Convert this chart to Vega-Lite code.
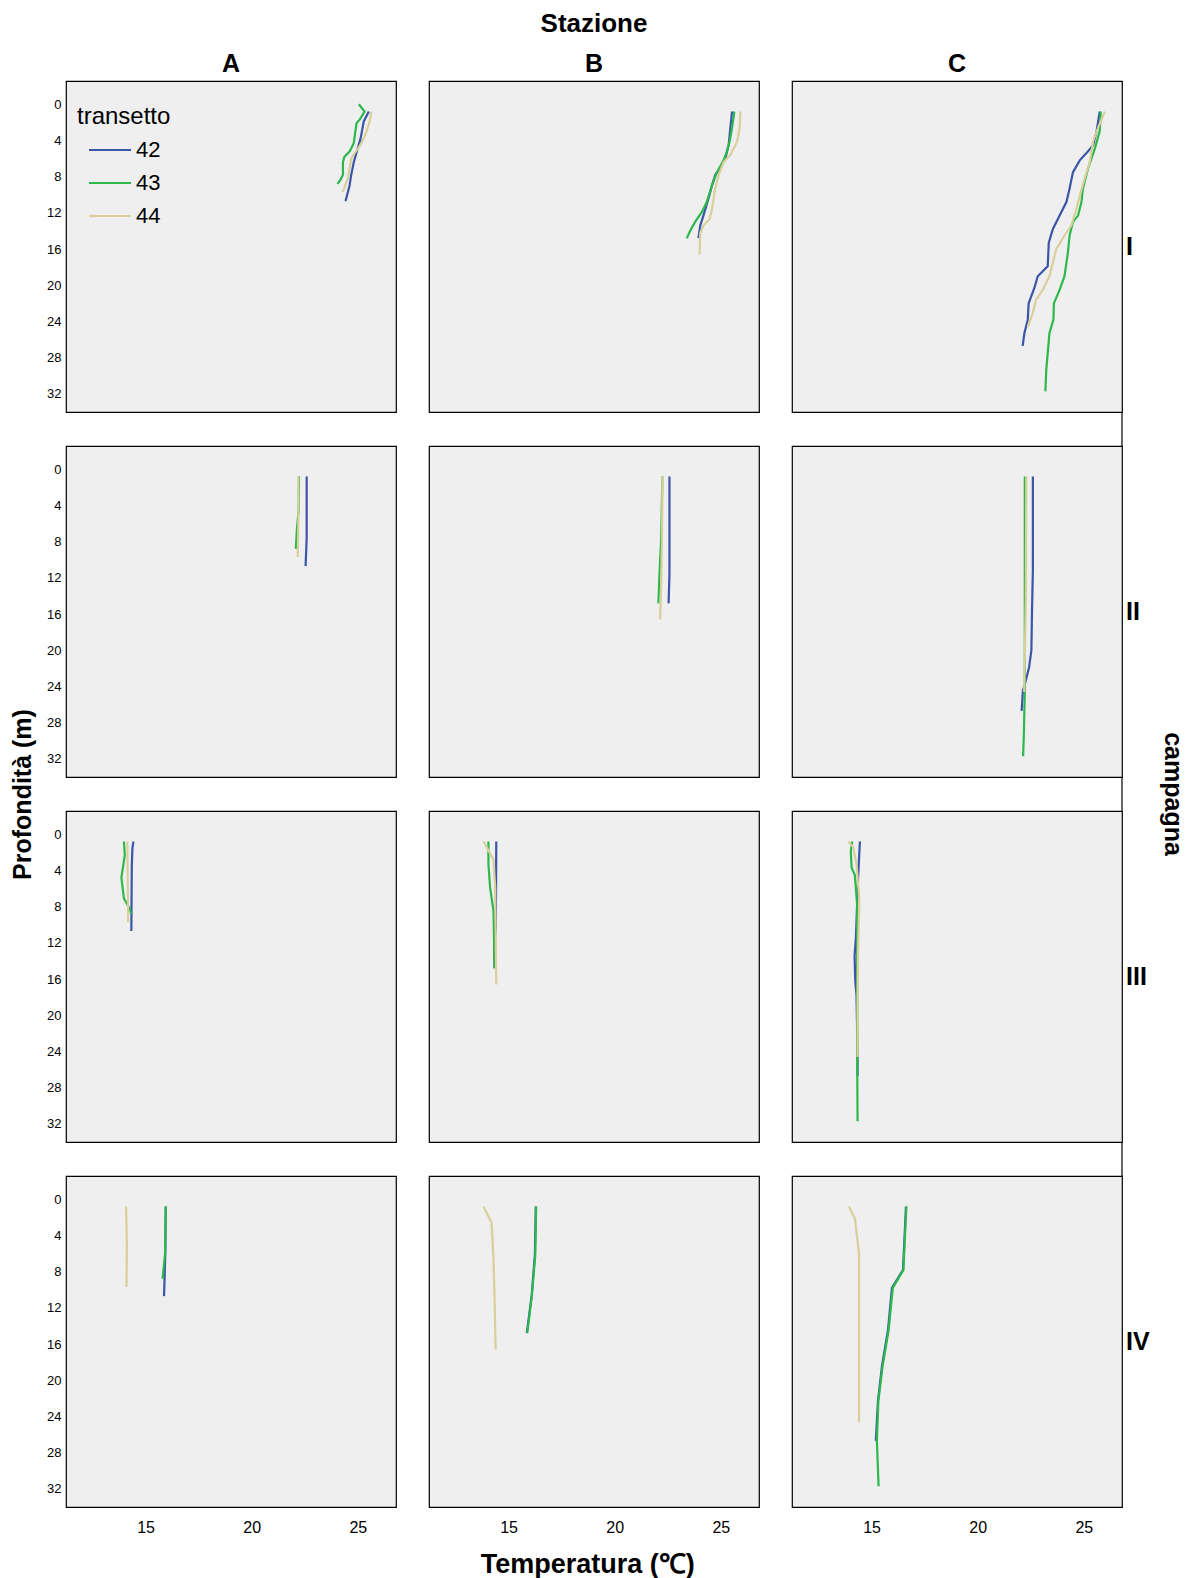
{
  "$schema": "https://vega.github.io/schema/vega-lite/v6.json",
  "padding": {"left": 10, "top": 11, "right": 2, "bottom": 2},
  "background": "white",
  "title": {"text": "Profondità (m)", "orient": "left", "anchor": "middle", "font": "Liberation Sans", "fontSize": 25, "fontWeight": "bold", "color": "black", "offset": 11},
  "vconcat": [{
  "title": {"text": "Temperatura (℃)", "orient": "bottom", "anchor": "middle", "font": "Liberation Sans", "fontSize": 27, "fontWeight": "bold", "color": "black", "offset": 17, "dx": -28},
  "data": {"values": [
    {"s":"A","c":"I","t":"42","d":0.8,"T":25.52},{"s":"A","c":"I","t":"42","d":1.9,"T":25.28},{"s":"A","c":"I","t":"42","d":3.8,"T":25.13},{"s":"A","c":"I","t":"42","d":5.1,"T":24.97},{"s":"A","c":"I","t":"42","d":6.4,"T":24.81},{"s":"A","c":"I","t":"42","d":7.8,"T":24.69},{"s":"A","c":"I","t":"42","d":9,"T":24.61},{"s":"A","c":"I","t":"42","d":10,"T":24.5},{"s":"A","c":"I","t":"42","d":10.7,"T":24.42},
    {"s":"A","c":"I","t":"43","d":0,"T":25.05},{"s":"A","c":"I","t":"43","d":0.8,"T":25.32},{"s":"A","c":"I","t":"43","d":1.7,"T":25.09},{"s":"A","c":"I","t":"43","d":2.1,"T":24.94},{"s":"A","c":"I","t":"43","d":3.4,"T":24.86},{"s":"A","c":"I","t":"43","d":4.3,"T":24.81},{"s":"A","c":"I","t":"43","d":5.2,"T":24.62},{"s":"A","c":"I","t":"43","d":5.8,"T":24.37},{"s":"A","c":"I","t":"43","d":6.4,"T":24.3},{"s":"A","c":"I","t":"43","d":7.8,"T":24.3},{"s":"A","c":"I","t":"43","d":8.4,"T":24.17},{"s":"A","c":"I","t":"43","d":8.8,"T":24.04},
    {"s":"A","c":"I","t":"44","d":0.8,"T":25.64},{"s":"A","c":"I","t":"44","d":1.9,"T":25.56},{"s":"A","c":"I","t":"44","d":3,"T":25.41},{"s":"A","c":"I","t":"44","d":4.1,"T":25.22},{"s":"A","c":"I","t":"44","d":4.9,"T":25.01},{"s":"A","c":"I","t":"44","d":5.4,"T":24.85},{"s":"A","c":"I","t":"44","d":6,"T":24.69},{"s":"A","c":"I","t":"44","d":7.1,"T":24.61},{"s":"A","c":"I","t":"44","d":8.2,"T":24.53},{"s":"A","c":"I","t":"44","d":9.7,"T":24.29},

    {"s":"B","c":"I","t":"42","d":0.8,"T":25.53},{"s":"B","c":"I","t":"42","d":2.6,"T":25.45},{"s":"B","c":"I","t":"42","d":4.5,"T":25.37},{"s":"B","c":"I","t":"42","d":6,"T":25.21},{"s":"B","c":"I","t":"42","d":7.1,"T":24.97},{"s":"B","c":"I","t":"42","d":7.8,"T":24.74},{"s":"B","c":"I","t":"42","d":9,"T":24.58},{"s":"B","c":"I","t":"42","d":10.4,"T":24.42},{"s":"B","c":"I","t":"42","d":12.3,"T":24.18},{"s":"B","c":"I","t":"42","d":13.4,"T":24.03},{"s":"B","c":"I","t":"42","d":14.8,"T":23.95},
    {"s":"B","c":"I","t":"43","d":0.8,"T":25.64},{"s":"B","c":"I","t":"43","d":2.6,"T":25.53},{"s":"B","c":"I","t":"43","d":4.1,"T":25.42},{"s":"B","c":"I","t":"43","d":5.2,"T":25.29},{"s":"B","c":"I","t":"43","d":6.2,"T":25.13},{"s":"B","c":"I","t":"43","d":7.5,"T":24.82},{"s":"B","c":"I","t":"43","d":9,"T":24.58},{"s":"B","c":"I","t":"43","d":10.8,"T":24.34},{"s":"B","c":"I","t":"43","d":11.9,"T":24.11},{"s":"B","c":"I","t":"43","d":13,"T":23.79},{"s":"B","c":"I","t":"43","d":14,"T":23.55},{"s":"B","c":"I","t":"43","d":14.8,"T":23.4},
    {"s":"B","c":"I","t":"44","d":0.8,"T":25.92},{"s":"B","c":"I","t":"44","d":2.6,"T":25.89},{"s":"B","c":"I","t":"44","d":4.1,"T":25.77},{"s":"B","c":"I","t":"44","d":5.6,"T":25.45},{"s":"B","c":"I","t":"44","d":6.4,"T":25.13},{"s":"B","c":"I","t":"44","d":7.8,"T":24.9},{"s":"B","c":"I","t":"44","d":9.3,"T":24.74},{"s":"B","c":"I","t":"44","d":11.6,"T":24.58},{"s":"B","c":"I","t":"44","d":12.7,"T":24.47},{"s":"B","c":"I","t":"44","d":13.4,"T":24.18},{"s":"B","c":"I","t":"44","d":14.2,"T":24.03},{"s":"B","c":"I","t":"44","d":16.6,"T":24.0},

    {"s":"C","c":"I","t":"42","d":0.8,"T":25.75},{"s":"C","c":"I","t":"42","d":3,"T":25.6},{"s":"C","c":"I","t":"42","d":4.5,"T":25.44},{"s":"C","c":"I","t":"42","d":5.2,"T":25.2},{"s":"C","c":"I","t":"42","d":6.2,"T":24.81},{"s":"C","c":"I","t":"42","d":7.5,"T":24.49},{"s":"C","c":"I","t":"42","d":9.3,"T":24.33},{"s":"C","c":"I","t":"42","d":10.8,"T":24.18},{"s":"C","c":"I","t":"42","d":12.3,"T":23.86},{"s":"C","c":"I","t":"42","d":13.8,"T":23.54},{"s":"C","c":"I","t":"42","d":15.3,"T":23.35},{"s":"C","c":"I","t":"42","d":17.9,"T":23.3},{"s":"C","c":"I","t":"42","d":19,"T":22.83},{"s":"C","c":"I","t":"42","d":20.3,"T":22.67},{"s":"C","c":"I","t":"42","d":22,"T":22.4},{"s":"C","c":"I","t":"42","d":23.8,"T":22.36},{"s":"C","c":"I","t":"42","d":25.3,"T":22.2},{"s":"C","c":"I","t":"42","d":26.7,"T":22.12},
    {"s":"C","c":"I","t":"43","d":0.8,"T":25.8},{"s":"C","c":"I","t":"43","d":3,"T":25.75},{"s":"C","c":"I","t":"43","d":4.9,"T":25.52},{"s":"C","c":"I","t":"43","d":7.1,"T":25.2},{"s":"C","c":"I","t":"43","d":9.3,"T":24.96},{"s":"C","c":"I","t":"43","d":10.8,"T":24.89},{"s":"C","c":"I","t":"43","d":12.3,"T":24.73},{"s":"C","c":"I","t":"43","d":13,"T":24.49},{"s":"C","c":"I","t":"43","d":14.5,"T":24.33},{"s":"C","c":"I","t":"43","d":16.4,"T":24.25},{"s":"C","c":"I","t":"43","d":19,"T":24.09},{"s":"C","c":"I","t":"43","d":20.5,"T":23.86},{"s":"C","c":"I","t":"43","d":22,"T":23.59},{"s":"C","c":"I","t":"43","d":23.8,"T":23.57},{"s":"C","c":"I","t":"43","d":25.3,"T":23.38},{"s":"C","c":"I","t":"43","d":27.5,"T":23.3},{"s":"C","c":"I","t":"43","d":29.4,"T":23.23},{"s":"C","c":"I","t":"43","d":31.7,"T":23.19},
    {"s":"C","c":"I","t":"44","d":0.8,"T":25.99},{"s":"C","c":"I","t":"44","d":2.6,"T":25.67},{"s":"C","c":"I","t":"44","d":4.1,"T":25.44},{"s":"C","c":"I","t":"44","d":6.4,"T":25.28},{"s":"C","c":"I","t":"44","d":8.2,"T":25.04},{"s":"C","c":"I","t":"44","d":10.1,"T":24.81},{"s":"C","c":"I","t":"44","d":11.6,"T":24.65},{"s":"C","c":"I","t":"44","d":13.4,"T":24.41},{"s":"C","c":"I","t":"44","d":14.5,"T":24.09},{"s":"C","c":"I","t":"44","d":16,"T":23.7},{"s":"C","c":"I","t":"44","d":17.5,"T":23.54},{"s":"C","c":"I","t":"44","d":19,"T":23.38},{"s":"C","c":"I","t":"44","d":20.5,"T":23.07},{"s":"C","c":"I","t":"44","d":21.6,"T":22.75},{"s":"C","c":"I","t":"44","d":23.1,"T":22.59},{"s":"C","c":"I","t":"44","d":24.6,"T":22.36},

    {"s":"A","c":"II","t":"42","d":0.8,"T":22.59},{"s":"A","c":"II","t":"42","d":7.7,"T":22.59},{"s":"A","c":"II","t":"42","d":10.7,"T":22.54},
    {"s":"A","c":"II","t":"43","d":0.8,"T":22.23},{"s":"A","c":"II","t":"43","d":4.6,"T":22.21},{"s":"A","c":"II","t":"43","d":6.6,"T":22.13},{"s":"A","c":"II","t":"43","d":8.8,"T":22.08},
    {"s":"A","c":"II","t":"44","d":0.8,"T":22.2},{"s":"A","c":"II","t":"44","d":5.6,"T":22.2},{"s":"A","c":"II","t":"44","d":9.7,"T":22.17},

    {"s":"B","c":"II","t":"42","d":0.8,"T":22.58},{"s":"B","c":"II","t":"42","d":11.6,"T":22.58},{"s":"B","c":"II","t":"42","d":14.8,"T":22.54},
    {"s":"B","c":"II","t":"43","d":0.8,"T":22.25},{"s":"B","c":"II","t":"43","d":7.6,"T":22.19},{"s":"B","c":"II","t":"43","d":11.6,"T":22.11},{"s":"B","c":"II","t":"43","d":14.8,"T":22.06},
    {"s":"B","c":"II","t":"44","d":0.8,"T":22.25},{"s":"B","c":"II","t":"44","d":7.6,"T":22.23},{"s":"B","c":"II","t":"44","d":12.6,"T":22.19},{"s":"B","c":"II","t":"44","d":16.6,"T":22.14},

    {"s":"C","c":"II","t":"42","d":0.8,"T":22.6},{"s":"C","c":"II","t":"42","d":11.2,"T":22.6},{"s":"C","c":"II","t":"42","d":15.6,"T":22.56},{"s":"C","c":"II","t":"42","d":20,"T":22.53},{"s":"C","c":"II","t":"42","d":21.9,"T":22.42},{"s":"C","c":"II","t":"42","d":23.4,"T":22.26},{"s":"C","c":"II","t":"42","d":24.5,"T":22.13},{"s":"C","c":"II","t":"42","d":26.7,"T":22.07},
    {"s":"C","c":"II","t":"43","d":0.8,"T":22.22},{"s":"C","c":"II","t":"43","d":24.6,"T":22.22},{"s":"C","c":"II","t":"43","d":29.7,"T":22.17},{"s":"C","c":"II","t":"43","d":31.7,"T":22.14},
    {"s":"C","c":"II","t":"44","d":0.8,"T":22.29},{"s":"C","c":"II","t":"44","d":14.6,"T":22.27},{"s":"C","c":"II","t":"44","d":24.6,"T":22.19},

    {"s":"A","c":"III","t":"42","d":0.8,"T":14.43},{"s":"A","c":"III","t":"42","d":1.5,"T":14.38},{"s":"A","c":"III","t":"42","d":3.5,"T":14.35},{"s":"A","c":"III","t":"42","d":10.7,"T":14.33},
    {"s":"A","c":"III","t":"43","d":0.8,"T":13.98},{"s":"A","c":"III","t":"43","d":2.3,"T":14.02},{"s":"A","c":"III","t":"43","d":4.8,"T":13.86},{"s":"A","c":"III","t":"43","d":7.1,"T":13.98},{"s":"A","c":"III","t":"43","d":8.1,"T":14.22},{"s":"A","c":"III","t":"43","d":8.8,"T":14.33},
    {"s":"A","c":"III","t":"44","d":0.8,"T":14.14},{"s":"A","c":"III","t":"44","d":9.7,"T":14.18},

    {"s":"B","c":"III","t":"42","d":0.8,"T":14.42},{"s":"B","c":"III","t":"42","d":10.4,"T":14.4},{"s":"B","c":"III","t":"42","d":12.4,"T":14.32},{"s":"B","c":"III","t":"42","d":14.8,"T":14.34},
    {"s":"B","c":"III","t":"43","d":0.8,"T":14.05},{"s":"B","c":"III","t":"43","d":3.3,"T":14.05},{"s":"B","c":"III","t":"43","d":5.9,"T":14.13},{"s":"B","c":"III","t":"43","d":8.5,"T":14.29},{"s":"B","c":"III","t":"43","d":14.8,"T":14.34},
    {"s":"B","c":"III","t":"44","d":0.8,"T":13.82},{"s":"B","c":"III","t":"44","d":2.8,"T":14.29},{"s":"B","c":"III","t":"44","d":5.9,"T":14.37},{"s":"B","c":"III","t":"44","d":16.6,"T":14.42},

    {"s":"C","c":"III","t":"42","d":0.8,"T":14.45},{"s":"C","c":"III","t":"42","d":4.5,"T":14.37},{"s":"C","c":"III","t":"42","d":11.5,"T":14.26},{"s":"C","c":"III","t":"42","d":13.4,"T":14.2},{"s":"C","c":"III","t":"42","d":16.2,"T":14.23},{"s":"C","c":"III","t":"42","d":17.7,"T":14.29},{"s":"C","c":"III","t":"42","d":24.4,"T":14.34},{"s":"C","c":"III","t":"42","d":26.7,"T":14.34},
    {"s":"C","c":"III","t":"43","d":0.8,"T":14.09},{"s":"C","c":"III","t":"43","d":1.9,"T":14.02},{"s":"C","c":"III","t":"43","d":3.7,"T":14.06},{"s":"C","c":"III","t":"43","d":4.5,"T":14.21},{"s":"C","c":"III","t":"43","d":7.8,"T":14.32},{"s":"C","c":"III","t":"43","d":24.4,"T":14.32},{"s":"C","c":"III","t":"43","d":31.7,"T":14.34},
    {"s":"C","c":"III","t":"44","d":0.8,"T":13.9},{"s":"C","c":"III","t":"44","d":1.4,"T":14.13},{"s":"C","c":"III","t":"44","d":3.3,"T":14.29},{"s":"C","c":"III","t":"44","d":7.1,"T":14.42},{"s":"C","c":"III","t":"44","d":12.4,"T":14.37},{"s":"C","c":"III","t":"44","d":18.4,"T":14.34},{"s":"C","c":"III","t":"44","d":24.6,"T":14.34},

    {"s":"A","c":"IV","t":"42","d":0.8,"T":15.95},{"s":"A","c":"IV","t":"42","d":6,"T":15.93},{"s":"A","c":"IV","t":"42","d":10.7,"T":15.87},
    {"s":"A","c":"IV","t":"43","d":0.8,"T":15.95},{"s":"A","c":"IV","t":"43","d":6,"T":15.92},{"s":"A","c":"IV","t":"43","d":8.8,"T":15.8},
    {"s":"A","c":"IV","t":"44","d":0.8,"T":14.08},{"s":"A","c":"IV","t":"44","d":5,"T":14.12},{"s":"A","c":"IV","t":"44","d":9.7,"T":14.1},

    {"s":"B","c":"IV","t":"42","d":0.8,"T":16.28},{"s":"B","c":"IV","t":"42","d":6.1,"T":16.24},{"s":"B","c":"IV","t":"42","d":10.6,"T":16.09},{"s":"B","c":"IV","t":"42","d":14.8,"T":15.86},
    {"s":"B","c":"IV","t":"43","d":0.8,"T":16.3},{"s":"B","c":"IV","t":"43","d":6.1,"T":16.26},{"s":"B","c":"IV","t":"43","d":10.6,"T":16.1},{"s":"B","c":"IV","t":"43","d":14.8,"T":15.88},
    {"s":"B","c":"IV","t":"44","d":0.8,"T":13.82},{"s":"B","c":"IV","t":"44","d":2.6,"T":14.2},{"s":"B","c":"IV","t":"44","d":6.7,"T":14.29},{"s":"B","c":"IV","t":"44","d":11,"T":14.34},{"s":"B","c":"IV","t":"44","d":16.6,"T":14.39},

    {"s":"C","c":"IV","t":"42","d":0.8,"T":16.62},{"s":"C","c":"IV","t":"42","d":7.8,"T":16.48},{"s":"C","c":"IV","t":"42","d":9.8,"T":15.96},{"s":"C","c":"IV","t":"42","d":14.5,"T":15.77},{"s":"C","c":"IV","t":"42","d":18.4,"T":15.49},{"s":"C","c":"IV","t":"42","d":22.3,"T":15.3},{"s":"C","c":"IV","t":"42","d":26.7,"T":15.2},
    {"s":"C","c":"IV","t":"43","d":0.8,"T":16.64},{"s":"C","c":"IV","t":"43","d":7.8,"T":16.5},{"s":"C","c":"IV","t":"43","d":9.8,"T":16.0},{"s":"C","c":"IV","t":"43","d":14.5,"T":15.8},{"s":"C","c":"IV","t":"43","d":18.4,"T":15.52},{"s":"C","c":"IV","t":"43","d":22.3,"T":15.32},{"s":"C","c":"IV","t":"43","d":26.7,"T":15.25},{"s":"C","c":"IV","t":"43","d":31.7,"T":15.33},
    {"s":"C","c":"IV","t":"44","d":0.8,"T":13.94},{"s":"C","c":"IV","t":"44","d":2.2,"T":14.22},{"s":"C","c":"IV","t":"44","d":6.1,"T":14.41},{"s":"C","c":"IV","t":"44","d":24.6,"T":14.41}
  ]},
  "facet": {
    "column": {"field": "s", "type": "nominal", "title": "Stazione", "sort": ["A","B","C"],
      "header": {"titleFont": "Liberation Sans", "titleFontSize": 26, "titleFontWeight": "bold", "titleColor": "black", "titlePadding": 5,
                 "labelFont": "Liberation Sans", "labelFontSize": 25, "labelFontWeight": "bold", "labelColor": "black", "labelPadding": 4}},
    "row": {"field": "c", "type": "nominal", "title": "campagna", "sort": ["I","II","III","IV"],
      "header": {"labelOrient": "right", "titleOrient": "right", "labelAngle": 0,
                 "labelFont": "Liberation Sans", "labelFontSize": 25, "labelFontWeight": "bold", "labelColor": "black", "labelPadding": 4,
                 "titleAngle": 90, "titleFont": "Liberation Sans", "titleFontSize": 25, "titleFontWeight": "bold", "titleColor": "black", "titlePadding": 0}}
  },
  "bounds": "flush",
  "spacing": {"row": 34, "column": 33},
  "spec": {
    "width": 330,
    "height": 331,
    "layer": [
      {
        "mark": {"type": "line", "strokeWidth": 2.2},
        "encoding": {
          "x": {"field": "T", "type": "quantitative", "title": null,
                "scale": {"domain": [11.25, 26.8], "nice": false, "zero": false},
                "axis": {"values": [15, 20, 25], "labelFontSize": 16, "labelPadding": 12}},
          "y": {"field": "d", "type": "quantitative", "title": null,
                "scale": {"domain": [-2.57, 34.0], "reverse": true, "nice": false, "zero": false},
                "axis": {"values": [0, 4, 8, 12, 16, 20, 24, 28, 32], "labelFontSize": 13, "labelPadding": 5}},
          "color": {"field": "t", "type": "nominal", "title": "transetto",
                    "scale": {"domain": ["42", "43", "44"], "range": ["#3b55a8", "#2cb84a", "#d8cf9b"]},
                    "legend": {"orient": "none", "legendX": 11, "legendY": 24, "padding": 0,
                               "titleFont": "Liberation Sans", "titleFontSize": 24, "titleFontWeight": "normal", "titleColor": "black", "titlePadding": -1,
                               "labelFont": "Liberation Sans", "labelFontSize": 22, "labelColor": "black", "labelOffset": 4,
                               "symbolType": "stroke", "symbolSize": 1764, "symbolStrokeWidth": 2, "symbolOffset": 11, "rowPadding": -9}},
          "order": {"field": "d", "type": "quantitative"}
        }
      },
      {
        "transform": [
          {"filter": "datum.s === 'C' && datum.c !== 'IV'"},
          {"aggregate": [{"op": "count", "as": "n"}], "groupby": ["s", "c"]}
        ],
        "mark": {"type": "rule", "clip": false, "color": "black", "strokeWidth": 1.2},
        "encoding": {
          "x": {"datum": 26.8, "type": "quantitative"},
          "y": {"datum": 34.0, "type": "quantitative"},
          "y2": {"datum": 37.8}
        }
      }
    ]
  }
  }],
  "config": {
    "view": {"fill": "#efefef", "stroke": "black", "strokeWidth": 1.2},
    "axis": {"domain": false, "ticks": false, "grid": false,
             "labelFont": "Liberation Sans", "labelColor": "black"}
  }
}
